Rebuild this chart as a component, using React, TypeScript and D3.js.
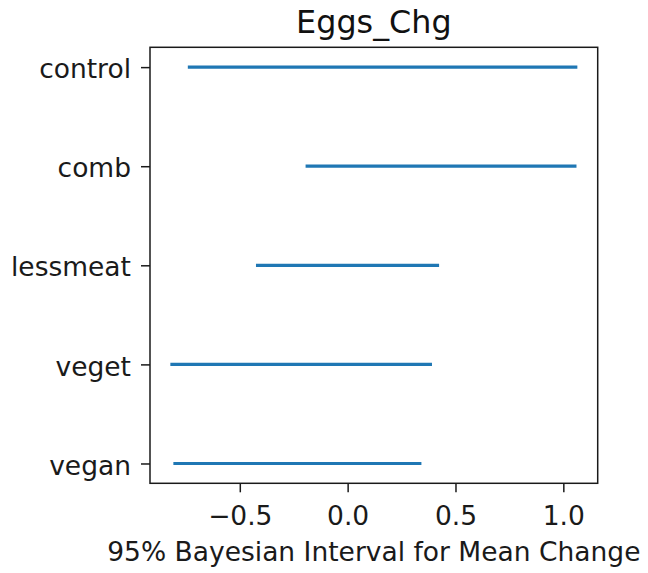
import React, { useEffect, useRef } from 'react';
import * as d3 from 'd3';

// groups, top to bottom
const groups = ['control', 'comb', 'lessmeat', 'veget', 'vegan'];
// 95% interval bounds for each group
const lower = [-0.741, -0.195, -0.425, -0.822, -0.808];
const upper = [1.065, 1.061, 0.424, 0.391, 0.342];
const xTicks = [-0.5, 0.0, 0.5, 1.0];

const W = 648;
const H = 573;

export default function App() {
  const svgRef = useRef<SVGSVGElement>(null);

  useEffect(() => {
    const svg = d3.select(svgRef.current);
    svg.selectAll('*').remove();

    const margin = { top: 47.3, right: 50.3, bottom: 89.7, left: 150 };
    const font = 'DejaVu Sans, sans-serif';
    const fs = 26.5;

    // matplotlib-style 5% padding around the data
    const lo = d3.min(lower)!;
    const hi = d3.max(upper)!;
    const pad = (hi - lo) * 0.05;
    const x = d3.scaleLinear()
      .domain([lo - pad, hi + pad])
      .range([margin.left, W - margin.right]);

    const n = groups.length;
    const y = d3.scaleLinear()
      .domain([-0.2, n - 1 + 0.2])
      .range([margin.top, H - margin.bottom]);

    // interval lines
    svg.append('g')
      .selectAll('line')
      .data(groups)
      .join('line')
      .attr('x1', (d, i) => x(lower[i]))
      .attr('x2', (d, i) => x(upper[i]))
      .attr('y1', (d, i) => y(i))
      .attr('y2', (d, i) => y(i))
      .attr('stroke', '#1f77b4')
      .attr('stroke-width', 3.2);

    // frame
    svg.append('rect')
      .attr('x', margin.left)
      .attr('y', margin.top)
      .attr('width', W - margin.left - margin.right)
      .attr('height', H - margin.bottom - margin.top)
      .attr('fill', 'none')
      .attr('stroke', '#1a1a1a')
      .attr('stroke-width', 1.5);

    // x axis
    const xAxis = svg.append('g')
      .attr('transform', `translate(0,${H - margin.bottom})`)
      .call(d3.axisBottom(x).tickValues(xTicks).tickSize(9).tickPadding(8)
        .tickFormat(d => d3.format('.1f')(d as number).replace('-', '\u2212')));
    xAxis.select('.domain').remove();
    xAxis.selectAll('line').attr('stroke', '#1a1a1a').attr('stroke-width', 1.5);
    xAxis.selectAll('text')
      .attr('font-family', font).attr('font-size', fs).attr('fill', '#1a1a1a')
      .attr('y', 42).attr('dy', null);

    // y axis
    const yAxis = svg.append('g')
      .attr('transform', `translate(${margin.left},0)`)
      .call(d3.axisLeft(y).tickValues(d3.range(n)).tickSize(9).tickPadding(10)
        .tickFormat(d => groups[d as number]));
    yAxis.select('.domain').remove();
    yAxis.selectAll('line').attr('stroke', '#1a1a1a').attr('stroke-width', 1.5);
    yAxis.selectAll('text')
      .attr('font-family', font).attr('font-size', fs).attr('fill', '#1a1a1a')
      .attr('dy', '0.4em');

    // title
    svg.append('text')
      .attr('x', (margin.left + W - margin.right) / 2)
      .attr('y', 33.3)
      .attr('text-anchor', 'middle')
      .attr('font-family', font)
      .attr('font-size', 31.8)
      .attr('fill', '#111')
      .text('Eggs_Chg');

    // x label
    svg.append('text')
      .attr('x', (margin.left + W - margin.right) / 2)
      .attr('y', 561)
      .attr('text-anchor', 'middle')
      .attr('font-family', font)
      .attr('font-size', fs)
      .attr('fill', '#1a1a1a')
      .text('95% Bayesian Interval for Mean Change');
  }, []);

  return (
    <svg
      ref={svgRef}
      width={W}
      height={H}
      style={{ position: 'absolute', left: 0, top: 0, background: '#fff' }}
    />
  );
}
